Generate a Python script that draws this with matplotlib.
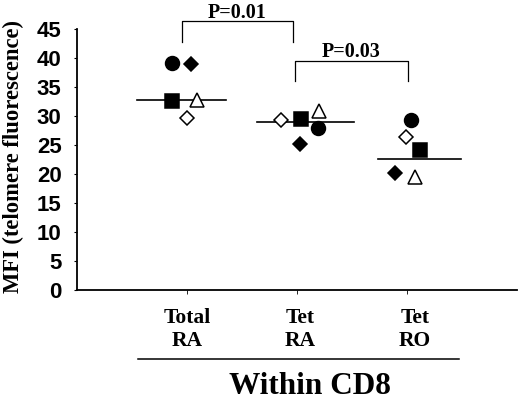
import matplotlib.pyplot as plt
from matplotlib.lines import Line2D

# groups (x positions 1, 2, 3)
groups = ["Total\nRA", "Tet\nRA", "Tet\nRO"]
group_x = [1, 2, 3]

# one series per patient symbol, values for each group
circle_vals = [39.1, 27.9, 29.3]
fdiamond_vals = [39.0, 25.1, 20.1]
square_vals = [32.6, 29.4, 24.1]
otriangle_vals = [32.8, 30.9, 19.5]
odiamond_vals = [29.7, 29.3, 26.4]

# horizontal jitter
circle_dx = [-0.134, 0.19, 0.036]
fdiamond_dx = [0.04, 0.03, -0.104]
square_dx = [-0.134, 0.034, 0.118]
otriangle_dx = [0.088, 0.2, 0.073]
odiamond_dx = [0.0, -0.148, -0.01]

means = [32.8, 28.9, 22.5]
mean_span = [(0.545, 1.355), (1.636, 2.518), (2.736, 3.49)]

p_labels = ["P=0.01", "P=0.03"]
p_pairs = [(0.952, 1.966), (1.982, 3.006)]
p_top = [46.3, 39.4]
p_bottom = [42.8, 36.0]
p_text_y = [46.85, 40.2]

yticks = [0, 5, 10, 15, 20, 25, 30, 35, 40, 45]

serif = "Liberation Serif"
sans = "Liberation Sans"

fig = plt.figure(figsize=(5.2, 4.01), dpi=100)
ax = fig.add_axes([0.148, 0.277, 0.846, 0.651])

series = [
    (circle_vals, circle_dx, "o", "black", 10),
    (fdiamond_vals, fdiamond_dx, "D", "black", 7.6),
    (square_vals, square_dx, "s", "black", 10.6),
    (otriangle_vals, otriangle_dx, "^", "white", 10.6),
    (odiamond_vals, odiamond_dx, "D", "white", 7.4),
]
for vals, dx, m, fc, ms in series:
    xs = [g + d for g, d in zip(group_x, dx)]
    ax.plot(xs, vals, linestyle="none", marker=m, markersize=ms,
            markerfacecolor=fc, markeredgecolor="black", markeredgewidth=1.1,
            zorder=3)

# mean lines
for (x0, x1), mval in zip(mean_span, means):
    ax.plot([x0, x1], [mval, mval], color="black", lw=1.2, zorder=2)

# significance brackets
for (x0, x1), top, bot, ty, lab in zip(p_pairs, p_top, p_bottom, p_text_y,
                                        p_labels):
    ax.plot([x0, x0, x1, x1], [bot, top, top, bot], color="black", lw=0.9,
            clip_on=False)
    ax.text((x0 + x1) / 2, ty, lab, ha="center", va="baseline",
            fontsize=14.5, fontweight="bold", family=serif, clip_on=False)

ax.set_xlim(0, 4)
ax.set_ylim(0, 45)
ax.set_yticks(yticks)
ax.set_yticklabels([str(t) for t in yticks], fontsize=16,
                   fontweight="bold", family=sans)
ax.set_xticks(group_x)
ax.set_xticklabels([])
ax.tick_params(axis="y", length=2, width=0.8, pad=9)
ax.tick_params(axis="x", length=3, width=0.6)
for s in ["top", "right"]:
    ax.spines[s].set_visible(False)
for s in ["left", "bottom"]:
    ax.spines[s].set_linewidth(1.3)

# group labels under the axis
label_x = [1.0, 2.027, 3.073]
for x, lab in zip(label_x, groups):
    ax.text(x, -0.07, lab, transform=ax.get_xaxis_transform(), ha="center",
            va="top", fontsize=15.5, fontweight="bold", family=serif,
            linespacing=1.22)

fig.add_artist(Line2D([0.265, 0.883], [0.1047, 0.1047], color="black", lw=1.1))
fig.text(0.596, 0.036, "Within CD8", ha="center", va="center", fontsize=22.5,
         fontweight="bold", family=serif)
fig.text(0.026, 0.61, "MFI (telomere fluorescence)", rotation=90, ha="center",
         va="center", fontsize=16.3, fontweight="bold", family=serif)

fig.savefig("out.png", dpi=100)
